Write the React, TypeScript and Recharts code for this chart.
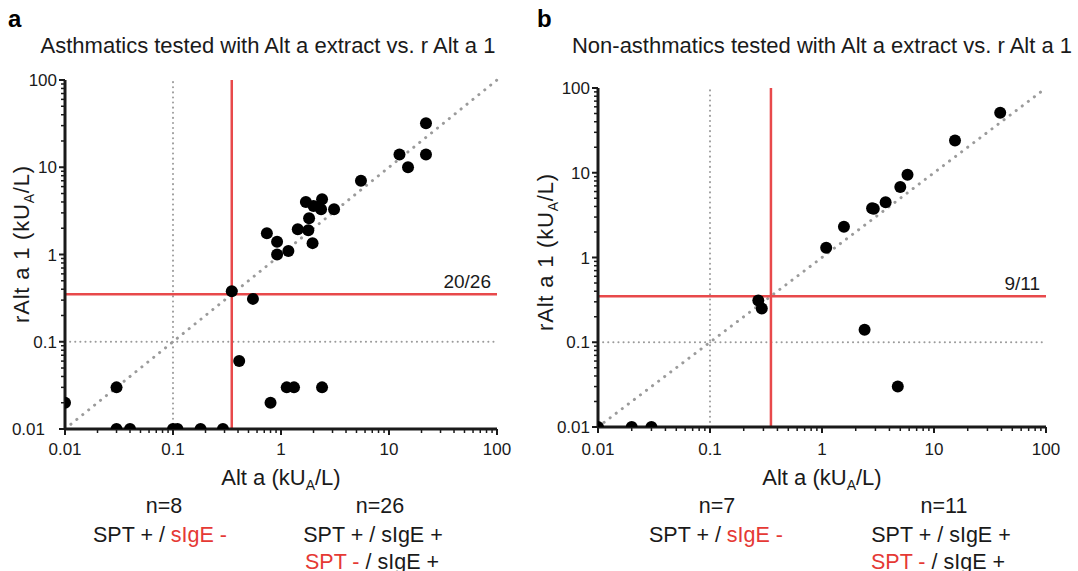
import { ReferenceLine, Scatter, ScatterChart, XAxis, YAxis } from 'recharts'

const TICKS_MAJOR = [0.01, 0.1, 1, 10, 100]
const TICK_LABELS = ['0.01', '0.1', '1', '10', '100']
const MINOR_STEPS = [2, 3, 4, 5, 6, 7, 8, 9]
const CUTOFF = 0.35
const DETECTION_LIMIT = 0.1

// panel a: asthmatics, Alt a extract (x) vs rAlt a 1 (y), kUA/L
const asthmaticsAltA = [
  0.01, 0.03, 0.03, 0.04, 0.1, 0.11, 0.18, 0.29, 0.35, 0.55, 0.41, 0.8, 1.13,
  1.32, 2.4, 0.74, 0.92, 0.92, 1.17, 1.43, 1.79, 1.82, 1.96, 1.7, 2.0, 2.4,
  2.35, 3.1, 5.5, 12.5, 15, 22, 22,
]
const asthmaticsRAltA1 = [
  0.02, 0.03, 0.01, 0.01, 0.01, 0.01, 0.01, 0.01, 0.38, 0.31, 0.06, 0.02, 0.03,
  0.03, 0.03, 1.75, 1.4, 1.0, 1.1, 1.95, 1.9, 2.6, 1.35, 4.0, 3.6, 4.3, 3.3,
  3.3, 7.0, 14, 10, 14, 32,
]

// panel b: non-asthmatics
const nonAsthmaticsAltA = [
  0.01, 0.02, 0.03, 0.27, 0.29, 1.09, 1.57, 2.8, 2.9, 3.7, 5.0, 5.8, 15.4, 39,
  2.4, 4.75,
]
const nonAsthmaticsRAltA1 = [
  0.01, 0.01, 0.01, 0.31, 0.25, 1.3, 2.3, 3.8, 3.75, 4.5, 6.8, 9.5, 24, 51,
  0.14, 0.03,
]

const RED = '#e8494b'
const RED_TEXT = '#e53935'
const DOT_GREY = '#9b9b9b'
const INK = '#1a1a1a'
const FONT = '"Liberation Sans", Arial, Helvetica, sans-serif'

const ALL_TICKS = TICKS_MAJOR.flatMap((t, i) =>
  i === TICKS_MAJOR.length - 1
    ? [t]
    : [t, ...MINOR_STEPS.map((m) => Number((t * m).toPrecision(2)))],
)

function majorIndex(v: number) {
  return TICKS_MAJOR.findIndex((t) => Math.abs(t - v) < t * 1e-6)
}

function XTick(props: any) {
  const { x, y, payload, labelDy } = props
  const i = majorIndex(payload.value)
  const major = i >= 0
  return (
    <g>
      <line
        x1={x}
        x2={x}
        y1={y}
        y2={y + (major ? 6 : 4)}
        stroke={INK}
        strokeWidth={major ? 2 : 1.5}
      />
      {major && (
        <text
          x={x}
          y={y + labelDy}
          textAnchor="middle"
          fontSize={17}
          fontFamily={FONT}
          fill={INK}
        >
          {TICK_LABELS[i]}
        </text>
      )}
    </g>
  )
}

function YTick(props: any) {
  const { x, y, payload, lowShift } = props
  const i = majorIndex(payload.value)
  const major = i >= 0
  return (
    <g>
      <line
        x1={x}
        x2={x - (major ? 6 : 4)}
        y1={y}
        y2={y}
        stroke={INK}
        strokeWidth={major ? 2 : 1.5}
      />
      {major && (
        <text
          x={x - 8 - (i === 0 ? lowShift : 0)}
          y={y}
          dy="0.36em"
          textAnchor="end"
          fontSize={17}
          fontFamily={FONT}
          fill={INK}
        >
          {TICK_LABELS[i]}
        </text>
      )}
    </g>
  )
}

const Dot = (p: any) => <circle cx={p.cx} cy={p.cy} r={6} fill="#000" />

interface PanelProps {
  xs: number[]
  ys: number[]
  ratio: string
  left: number
  margin: { top: number; right: number; bottom: number; left: number }
  labelDy: number
  lowShift: number
}

function Panel({ xs, ys, ratio, left, margin, labelDy, lowShift }: PanelProps) {
  const data = xs.map((x, i) => ({ x, y: ys[i] }))
  const dotted = {
    stroke: DOT_GREY,
    strokeWidth: 2,
    strokeDasharray: '0.1 5',
    strokeLinecap: 'round' as const,
  }
  return (
    <div style={{ position: 'absolute', left, top: 0 }}>
      <ScatterChart width={539} height={571} margin={margin}>
        <XAxis
          type="number"
          dataKey="x"
          scale="log"
          domain={[0.01, 100]}
          ticks={ALL_TICKS}
          interval={0}
          tickSize={0}
          tickMargin={0}
          tickLine={false}
          axisLine={{ stroke: INK, strokeWidth: 3 }}
          tick={(p: any) => <XTick {...p} labelDy={labelDy} />}
          height={40}
          allowDataOverflow
        />
        <YAxis
          type="number"
          dataKey="y"
          scale="log"
          domain={[0.01, 100]}
          ticks={ALL_TICKS}
          interval={0}
          tickSize={0}
          tickMargin={0}
          tickLine={false}
          axisLine={{ stroke: INK, strokeWidth: 3 }}
          tick={(p: any) => <YTick {...p} lowShift={lowShift} />}
          width={45}
          allowDataOverflow
        />
        <ReferenceLine
          segment={[
            { x: 0.01, y: 0.01 },
            { x: 100, y: 100 },
          ]}
          {...dotted}
          strokeDasharray="0.1 7.5"
          strokeWidth={3}
        />
        <ReferenceLine x={DETECTION_LIMIT} {...dotted} />
        <ReferenceLine y={DETECTION_LIMIT} {...dotted} />
        <ReferenceLine x={CUTOFF} stroke={RED} strokeWidth={2.5} />
        <ReferenceLine
          y={CUTOFF}
          stroke={RED}
          strokeWidth={2.5}
          label={{
            value: ratio,
            position: 'insideBottomRight',
            offset: 6,
            fill: INK,
            fontSize: 19,
            fontFamily: FONT,
          }}
        />
        <Scatter data={data} isAnimationActive={false} shape={Dot} />
      </ScatterChart>
    </div>
  )
}

function Unit() {
  return (
    <>
      <tspan>(kU</tspan>
      <tspan fontSize={14} dy={5}>
        A
      </tspan>
      <tspan dy={-5}>/L)</tspan>
    </>
  )
}

function Overlay() {
  const t = { fontFamily: FONT, fill: INK, fontSize: 21.5 }
  return (
    <svg
      width={1078}
      height={571}
      style={{ position: 'absolute', left: 0, top: 0, pointerEvents: 'none' }}
    >
      <text x={8} y={27} fontWeight="bold" fontSize={24} fontFamily={FONT} fill="#000">
        a
      </text>
      <text x={537} y={27} fontWeight="bold" fontSize={24} fontFamily={FONT} fill="#000">
        b
      </text>

      <text {...t} fontSize={22} x={268} y={53} textAnchor="middle">
        Asthmatics tested with Alt a extract vs. r Alt a 1
      </text>
      <text {...t} fontSize={22} x={822} y={53} textAnchor="middle">
        Non-asthmatics tested with Alt a extract vs. r Alt a 1
      </text>

      <text {...t} fontSize={22} x={281} y={485} textAnchor="middle">
        Alt a <Unit />
      </text>
      <text {...t} fontSize={22} x={822} y={485} textAnchor="middle">
        Alt a <Unit />
      </text>

      <text
        {...t}
        fontSize={22}
        letterSpacing={0.8}
        transform="translate(29,244) rotate(-90)"
        textAnchor="middle"
      >
        rAlt a 1 <Unit />
      </text>
      <text
        {...t}
        fontSize={22}
        letterSpacing={0.8}
        transform="translate(553,252) rotate(-90)"
        textAnchor="middle"
      >
        rAlt a 1 <Unit />
      </text>

      <text {...t} x={164} y={513} textAnchor="middle">n=8</text>
      <text {...t} x={160} y={542} textAnchor="middle">
        SPT + / <tspan fill={RED_TEXT}>sIgE -</tspan>
      </text>
      <text {...t} x={380} y={513} textAnchor="middle">n=26</text>
      <text {...t} x={373} y={542} textAnchor="middle">SPT + / sIgE +</text>
      <text {...t} x={372} y={569} textAnchor="middle">
        <tspan fill={RED_TEXT}>SPT -</tspan> / sIgE +
      </text>

      <text {...t} x={717} y={513} textAnchor="middle">n=7</text>
      <text {...t} x={716} y={542} textAnchor="middle">
        SPT + / <tspan fill={RED_TEXT}>sIgE -</tspan>
      </text>
      <text {...t} x={944} y={513} textAnchor="middle">n=11</text>
      <text {...t} x={941} y={542} textAnchor="middle">SPT + / sIgE +</text>
      <text {...t} x={938} y={569} textAnchor="middle">
        <tspan fill={RED_TEXT}>SPT -</tspan> / sIgE +
      </text>
    </svg>
  )
}

export default function App() {
  return (
    <div
      style={{
        position: 'absolute',
        left: 0,
        top: 0,
        width: 1078,
        height: 571,
        background: '#fff',
        overflow: 'hidden',
      }}
    >
      <Panel
        xs={asthmaticsAltA}
        ys={asthmaticsRAltA1}
        ratio="20/26"
        left={0}
        margin={{ top: 80, right: 42, bottom: 102, left: 20 }}
        labelDy={26}
        lowShift={12}
      />
      <Panel
        xs={nonAsthmaticsAltA}
        ys={nonAsthmaticsRAltA1}
        ratio="9/11"
        left={539}
        margin={{ top: 88, right: 32, bottom: 104, left: 14 }}
        labelDy={28}
        lowShift={0}
      />
      <Overlay />
    </div>
  )
}
